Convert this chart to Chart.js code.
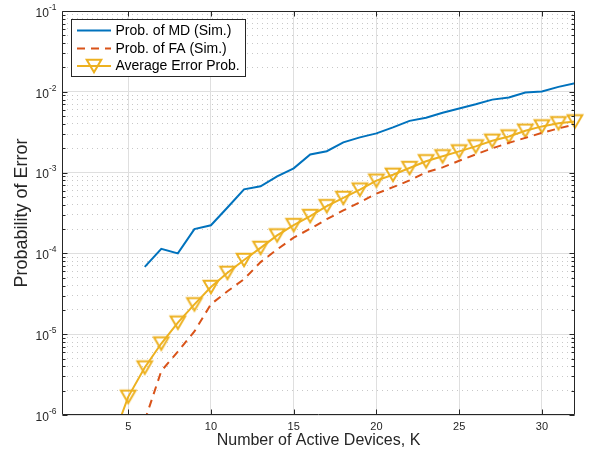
<!DOCTYPE html>
<html><head><meta charset="utf-8">
<script src="https://cdn.jsdelivr.net/npm/chart.js@4.4.1/dist/chart.umd.min.js"></script>
<style>html,body{margin:0;padding:0;background:#fff;}#wrap{width:592px;height:458px;}</style>
</head><body><div id="wrap"><canvas id="c" width="592" height="458"></canvas></div>
<script>
// ---- data ----
const kValues = [4,5,6,7,8,9,10,11,12,13,14,15,16,17,18,19,20,21,22,23,24,25,26,27,28,29,30,31,32];
const mdProb = [null,null,6.8e-5,1.14e-4,1.0e-4,2.0e-4,2.23e-4,3.7e-4,6.2e-4,6.76e-4,9.0e-4,1.13e-3,1.68e-3,1.84e-3,2.37e-3,2.73e-3,3.06e-3,3.63e-3,4.37e-3,4.78e-3,5.5e-3,6.2e-3,7.0e-3,8.0e-3,8.5e-3,9.8e-3,1.01e-2,1.15e-2,1.28e-2];
const faProb = [null,null,8.5e-7,3.5e-6,6.1e-6,1.08e-5,2.35e-5,3.4e-5,4.8e-5,7.8e-5,1.12e-4,1.57e-4,2.02e-4,2.65e-4,3.4e-4,4.3e-4,5.5e-4,6.6e-4,8.0e-4,1.01e-3,1.16e-3,1.4e-3,1.68e-3,2.0e-3,2.33e-3,2.69e-3,3.1e-3,3.52e-3,3.95e-3];
const avgProb = [4.6e-7,1.68e-6,3.87e-6,7.66e-6,1.39e-5,2.34e-5,3.84e-5,5.75e-5,8.3e-5,1.17e-4,1.67e-4,2.24e-4,2.9e-4,3.84e-4,4.86e-4,6.16e-4,7.95e-4,9.4e-4,1.14e-3,1.38e-3,1.59e-3,1.83e-3,2.11e-3,2.48e-3,2.8e-3,3.3e-3,3.73e-3,4.08e-3,4.3e-3];
const seriesLabels = ['Prob. of MD (Sim.)','Prob. of FA (Sim.)','Average Error Prob.'];
const xTickValues = [5,10,15,20,25,30];
const yDecadeValues = [1e-6,1e-5,1e-4,1e-3,1e-2,1e-1];
const yTickBase = '10';
const yTickExponents = ['-6','-5','-4','-3','-2','-1'];
const xTitle = 'Number of Active Devices, K';
const yTitle = 'Probability of Error';

// ---- styles ----
const FONT = "'Liberation Sans', Arial, Helvetica, sans-serif";
const TEXT = '#262626';
const C_MD = '#0072BD', C_FA = '#D95319', C_AVG = '#EDB120';

function pts(arr){ return kValues.map((k,i)=>({x:k, y:arr[i]})); }
function decadeIndex(v){
  for (let i=0;i<yDecadeValues.length;i++){ if (Math.abs(v/yDecadeValues[i]-1) < 1e-9) return i; }
  return -1;
}
function yTickList(){
  const t=[];
  yDecadeValues.forEach((d,i)=>{
    t.push({value:d, major:true});
    if (i < yDecadeValues.length-1) for (let m=2;m<=9;m++) t.push({value:d*m, major:false});
  });
  return t;
}

// MATLAB-like 'v' marker, centred on its bounding box
const markerImg = (function(){
  const c = document.createElement('canvas');
  c.width = 26; c.height = 26;
  const g = c.getContext('2d');
  const s = 14.6, h = s*Math.sqrt(3)/2, cx = 13, cy = 13;
  g.strokeStyle = C_AVG; g.lineWidth = 2; g.lineJoin = 'miter';
  g.beginPath();
  g.moveTo(cx - s/2, cy - h/2);
  g.lineTo(cx + s/2, cy - h/2);
  g.lineTo(cx, cy + h/2);
  g.closePath();
  g.stroke();
  return c;
})();

const framePlugin = {
  id: 'matlabFrame',
  afterDatasetsDraw(chart){
    const {ctx, chartArea:a, scales:{x, y}} = chart;
    ctx.save();
    ctx.strokeStyle = TEXT; ctx.lineWidth = 1;
    const L=a.left+0.5, R=a.right-0.5, T=a.top+0.5, B=a.bottom-0.5;
    ctx.beginPath();
    ctx.rect(L, T, R-L, B-T);
    xTickValues.forEach(v=>{
      const px = Math.round(x.getPixelForValue(v))+0.5;
      ctx.moveTo(px,B); ctx.lineTo(px,B-5);
      ctx.moveTo(px,T); ctx.lineTo(px,T+5);
    });
    y.ticks.forEach(t=>{
      const py = Math.round(y.getPixelForValue(t.value))+0.5;
      const len = decadeIndex(t.value) >= 0 ? 5 : 3;
      ctx.moveTo(L,py); ctx.lineTo(L+len,py);
      ctx.moveTo(R,py); ctx.lineTo(R-len,py);
    });
    ctx.stroke();
    // y tick labels: 10 with raised exponent
    ctx.fillStyle = TEXT;
    ctx.textAlign = 'left';
    ctx.textBaseline = 'alphabetic';
    yDecadeValues.forEach((d,i)=>{
      const py = y.getPixelForValue(d);
      const xr = a.left - 5.5;
      ctx.font = '8.5px ' + FONT;
      const ew = ctx.measureText(yTickExponents[i]).width;
      ctx.font = '12px ' + FONT;
      const bw = ctx.measureText(yTickBase).width;
      ctx.fillText(yTickBase, xr - ew - bw, py + 5.8);
      ctx.font = '8.5px ' + FONT;
      ctx.fillText(yTickExponents[i], xr - ew, py - 1.2);
    });
    ctx.restore();
  },
  afterDraw(chart){
    const ctx = chart.ctx;
    const ds = chart.data.datasets;
    ctx.save();
    ctx.fillStyle = '#fff';
    ctx.fillRect(72, 20, 173, 56);
    ctx.strokeStyle = TEXT; ctx.lineWidth = 1;
    ctx.strokeRect(71.5, 19.5, 174, 57);
    const rows = [30.5, 48.5, 66];
    ds.forEach((d,i)=>{
      const yy = rows[i];
      ctx.strokeStyle = d.borderColor;
      ctx.lineWidth = 2;
      ctx.setLineDash(d.borderDash || []);
      ctx.beginPath(); ctx.moveTo(77, yy); ctx.lineTo(111, yy); ctx.stroke();
      ctx.setLineDash([]);
      if (d.pointStyle) ctx.drawImage(markerImg, 94 - 13, yy - 13);
      ctx.fillStyle = '#000';
      ctx.font = '14px ' + FONT;
      ctx.textBaseline = 'middle';
      ctx.textAlign = 'left';
      ctx.fillText(d.label, 115.5, yy+0.5);
    });
    ctx.restore();
  }
};

new Chart(document.getElementById('c'), {
  type: 'line',
  data: {
    datasets: [
      {label: seriesLabels[0], data: pts(mdProb), borderColor: C_MD, borderWidth: 2, pointRadius: 0, fill: false, tension: 0, clip: 0},
      {label: seriesLabels[1], data: pts(faProb), borderColor: C_FA, borderWidth: 2, borderDash: [8,6], pointRadius: 0, fill: false, tension: 0, clip: 0},
      {label: seriesLabels[2], data: pts(avgProb), borderColor: C_AVG, borderWidth: 2, pointStyle: markerImg, pointRotation: 0,
        pointRadius: 9, pointHoverRadius: 9, fill: false, tension: 0, clip: {left: 0, top: 0, right: 14, bottom: 0}}
    ]
  },
  options: {
    responsive: false,
    animation: false,
    devicePixelRatio: 1,
    layout: {padding: {left: 0, right: 17, top: 9, bottom: 0}},
    plugins: {legend: {display: false}, tooltip: {enabled: false}},
    scales: {
      x: {
        type: 'linear', min: 1, max: 32,
        afterBuildTicks: s => { s.ticks = xTickValues.map(v=>({value: v})); },
        afterFit: s => { s.height = 43; },
        grid: {color: '#dfdfdf', lineWidth: 1, drawTicks: false},
        border: {display: false},
        ticks: {autoSkip: false, maxRotation: 0, padding: 5, color: TEXT, font: {family: FONT, size: 11},
          callback: v => String(v)},
        title: {display: true, text: xTitle, color: TEXT, font: {family: FONT, size: 16}, padding: {top: 0, bottom: 8}}
      },
      y: {
        type: 'logarithmic', min: 1e-6, max: 1e-1,
        afterBuildTicks: s => { s.ticks = yTickList(); },
        afterFit: s => { s.width = 62; },
        grid: {color: c => (c.tick && decadeIndex(c.tick.value) >= 0) ? '#dfdfdf' : '#c8c8c8', lineWidth: 1, drawTicks: false},
        border: {display: false, dash: c => (c.tick && decadeIndex(c.tick.value) < 0) ? [1,4] : []},
        ticks: {display: false, autoSkip: false},
        title: {display: true, text: yTitle, color: TEXT, font: {family: FONT, size: 18}, padding: {top: 11, bottom: 0}}
      }
    }
  },
  plugins: [framePlugin]
});
</script></body></html>
